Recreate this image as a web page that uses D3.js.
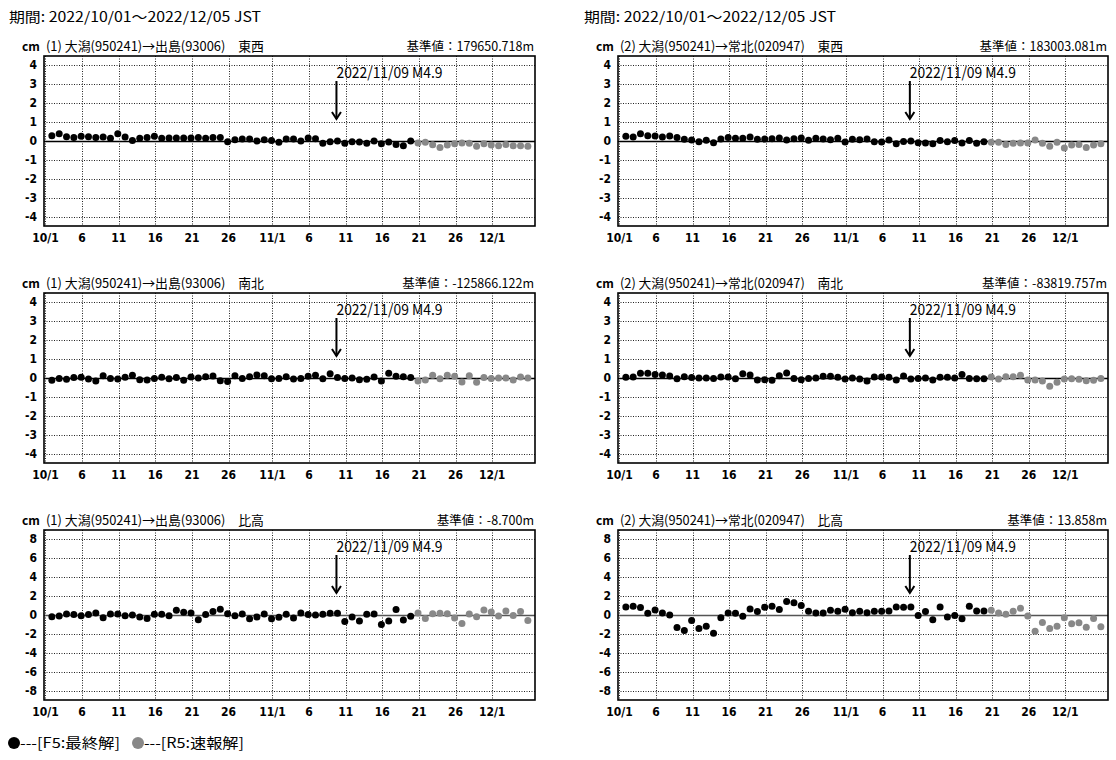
<!DOCTYPE html>
<html><head><meta charset="utf-8">
<script src="https://cdn.jsdelivr.net/npm/d3@7"></script>
<style>
html,body{margin:0;padding:0;background:#fff;}
svg{display:block;}
text{font-family:"Noto Sans CJK JP",sans-serif;fill:#000;}
.tick{font-family:"Liberation Sans Narrow","DejaVu Sans Condensed",sans-serif;font-weight:bold;font-size:12px;}
</style></head>
<body>
<script>
// ---------------- data ----------------
const periodText = "期間: 2022/10/01～2022/12/05 JST";
const eventLabel = "2022/11/09 M4.9";
const eventTime = "2022-11-09T17:40:00Z"; // JST treated as UTC clock
const startDate = "2022-10-01", endDate = "2022-12-06";
const finalCount = 50; // 10/1..11/19 final (F5), then rapid (R5)

const xTickDates = ["2022-10-01","2022-10-06","2022-10-11","2022-10-16","2022-10-21","2022-10-26",
  "2022-11-01","2022-11-06","2022-11-11","2022-11-16","2022-11-21","2022-11-26","2022-12-01"];
const xTickLabels = ["10/1","6","11","16","21","26","11/1","6","11","16","21","26","12/1"];
const yTicksSmall = [4,3,2,1,0,-1,-2,-3,-4];
const yTicksLarge = [8,6,4,2,0,-2,-4,-6,-8];

const panelTitles = [
  "(1) 大潟(950241)→出島(93006)　東西", "(2) 大潟(950241)→常北(020947)　東西",
  "(1) 大潟(950241)→出島(93006)　南北", "(2) 大潟(950241)→常北(020947)　南北",
  "(1) 大潟(950241)→出島(93006)　比高", "(2) 大潟(950241)→常北(020947)　比高"];
const baseValues = ["基準値：179650.718m","基準値：183003.081m","基準値：-125866.122m",
  "基準値：-83819.757m","基準値：-8.700m","基準値：13.858m"];

const ew1 = [0.28,0.39,0.23,0.19,0.25,0.23,0.19,0.21,0.14,0.39,0.21,0.02,0.14,0.18,0.25,0.14,0.16,0.16,0.16,0.16,
  0.18,0.14,0.18,0.19,-0.04,0.07,0.1,0.1,0,0.07,0.02,-0.07,0.1,0.1,0,0.16,0.12,-0.12,-0.04,0,
  -0.12,-0.04,-0.05,-0.12,0,-0.14,-0.05,-0.18,-0.25,0,
  -0.1,-0.07,-0.2,-0.34,-0.21,-0.14,-0.1,-0.12,-0.28,-0.14,-0.21,-0.25,-0.18,-0.25,-0.25,-0.28];
const ew2 = [0.25,0.21,0.39,0.28,0.27,0.21,0.27,0.18,0.09,0.05,-0.04,0.04,-0.09,0.1,0.19,0.14,0.14,0.21,0.09,0.1,
  0.12,0.16,0.05,0.12,0.16,0.04,0.14,0.1,0.07,0.14,-0.05,0.09,0.07,0.1,-0.04,-0.05,0.05,-0.14,-0.02,0,
  -0.09,-0.1,-0.14,0.02,-0.04,0.02,-0.1,0.02,-0.12,-0.04,
  -0.07,-0.07,-0.18,-0.12,-0.1,-0.1,0.05,-0.12,-0.28,-0.07,-0.37,-0.21,-0.18,-0.34,-0.21,-0.14];
const ns1 = [-0.12,-0.02,-0.07,0.02,0.04,-0.05,-0.16,0.12,-0.02,-0.05,0.04,0.14,-0.09,-0.1,-0.02,0.04,-0.04,0.02,-0.12,0.05,
  0,0.07,0.1,-0.14,-0.19,0.12,-0.02,0.07,0.16,0.12,-0.04,-0.02,0.07,-0.05,-0.02,0.09,0.14,-0.04,0.23,0.02,
  -0.02,0,-0.09,-0.07,0.05,-0.16,0.25,0.09,0.07,0.02,
  -0.16,-0.1,0.14,-0.04,0.14,0.09,-0.21,0.12,-0.23,0.02,-0.02,0,0,-0.1,0.05,0];
const ns2 = [0.04,0.05,0.25,0.25,0.19,0.16,0.1,-0.04,0.07,0.02,0,0,-0.02,0.05,0.05,-0.04,0.23,0.16,-0.1,-0.09,
  -0.12,0.12,0.27,-0.02,-0.09,-0.02,0,0.09,0.09,0.04,-0.05,0,-0.05,-0.16,0.05,0.05,0.04,-0.1,0.1,-0.05,
  -0.02,0,-0.1,0.04,0.04,0,0.19,-0.02,-0.04,-0.04,
  0.05,-0.05,0.07,0.07,0.14,-0.1,-0.1,-0.16,-0.44,-0.23,-0.05,-0.04,-0.07,-0.14,-0.12,-0.02];
const ud1 = [-0.18,-0.1,0.1,0.04,-0.07,0.04,0.2,-0.28,0.1,0.1,-0.07,0,-0.2,-0.36,0.07,0.07,-0.07,0.5,0.28,0.2,
  -0.5,0.04,0.36,0.6,0.14,-0.07,0.1,-0.4,-0.2,0.1,-0.4,-0.25,0.07,-0.32,0.2,0.04,0,0.07,0.18,0.18,
  -0.7,-0.2,-0.64,0.07,0.1,-1.0,-0.64,0.57,-0.53,-0.14,
  0.2,-0.36,0.14,0.18,0.14,-0.32,-0.9,0.1,-0.18,0.53,0.32,-0.1,0.43,-0.04,0.36,-0.57];
const ud2 = [0.86,0.93,0.79,0.18,0.54,0.21,0,-1.32,-1.64,-0.57,-1.43,-1.18,-1.93,-0.29,0.21,0.18,-0.14,0.64,0.36,0.82,
  0.93,0.57,1.43,1.29,1.0,0.39,0.21,0.21,0.5,0.39,0.61,0.25,0.39,0.25,0.39,0.39,0.43,0.86,0.82,0.86,
  -0.04,0.36,-0.5,0.86,-0.21,-0.04,-0.39,0.93,0.43,0.43,
  0.5,0.21,0.07,0.39,0.71,-0.11,-1.71,-0.79,-1.43,-1.18,-0.29,-0.93,-0.82,-1.29,-0.36,-1.25];
const seriesList = [ew1, ew2, ns1, ns2, ud1, ud2];

const legendItems = [{label:"---[F5:最終解]", color:"#000"}, {label:"---[R5:速報解]", color:"#888"}];

// ---------------- layout ----------------
const W = 1116, H = 760;
const cols = [{x0:44, x1:535, off:0}, {x0:618, x1:1108, off:575}];
const rows = [{top:56, bottom:226, ymax:4.5, ticks:yTicksSmall, zeroColor:"#000"},
              {top:293, bottom:463, ymax:4.5, ticks:yTicksSmall, zeroColor:"#000"},
              {top:530, bottom:700, ymax:9, ticks:yTicksLarge, zeroColor:"#555"}];
const DAY = 86400000;
const parse = s => new Date(s + (s.length === 10 ? "T00:00:00Z" : ""));
const days = d3.utcDay.range(parse(startDate), parse(endDate));
const pointOffset = 0.875; // daily solution plotted at 21:00 JST

const svg = d3.select("body").append("svg").attr("width", W).attr("height", H);

// period headers
cols.forEach(c => {
  svg.append("text").attr("x", 9 + c.off).attr("y", 22).attr("font-size", 14)
    .attr("textLength", 252).attr("lengthAdjust", "spacingAndGlyphs").text(periodText);
});

rows.forEach((r, ri) => {
  cols.forEach((c, ci) => {
    const pi = ri * 2 + ci;
    const vals = seriesList[pi];
    const x = d3.scaleUtc()
      .domain([new Date(+parse(startDate) - 0.2 * DAY), new Date(+parse(endDate) + 0.85 * DAY)])
      .range([c.x0, c.x1]);
    const y = d3.scaleLinear().domain([-r.ymax, r.ymax]).range([r.bottom, r.top]);
    const g = svg.append("g");

    // titles
    g.append("text").attr("x", c.x0 - 22).attr("y", r.top - 5).attr("font-size", 12)
      .attr("font-weight", "bold").text("cm");
    g.append("text").attr("x", c.x0 + 2).attr("y", r.top - 5).attr("font-size", 13)
      .attr("textLength", ci === 0 ? 218 : 223).attr("lengthAdjust", "spacingAndGlyphs").text(panelTitles[pi]);
    g.append("text").attr("x", c.x1 - 1).attr("y", r.top - 5).attr("font-size", 12.5)
      .attr("text-anchor", "end").text(baseValues[pi]);

    // horizontal gridlines
    g.append("g").selectAll("line").data(r.ticks.filter(t => t !== 0)).join("line")
      .attr("x1", c.x0).attr("x2", c.x1)
      .attr("y1", d => Math.round(y(d)) + 0.5).attr("y2", d => Math.round(y(d)) + 0.5)
      .attr("stroke", "#222").attr("stroke-dasharray", "1,1.5").attr("stroke-width", 1);
    // vertical gridlines
    g.append("g").selectAll("line").data(xTickDates).join("line")
      .attr("x1", d => Math.round(x(parse(d))) + 0.5).attr("x2", d => Math.round(x(parse(d))) + 0.5)
      .attr("y1", r.top).attr("y2", r.bottom)
      .attr("stroke", "#222").attr("stroke-dasharray", "1,1.5").attr("stroke-width", 1);
    // zero line
    g.append("line").attr("x1", c.x0).attr("x2", c.x1)
      .attr("y1", Math.round(y(0)) + 0.5).attr("y2", Math.round(y(0)) + 0.5)
      .attr("stroke", r.zeroColor).attr("stroke-width", 1.4);

    // y tick labels
    g.append("g").selectAll("text").data(r.ticks).join("text").attr("class", "tick")
      .attr("x", c.x0 - 7).attr("y", d => y(d) + 4).attr("text-anchor", "end").text(d => d);
    // x tick labels
    g.append("g").selectAll("text").data(xTickDates).join("text").attr("class", "tick")
      .attr("x", d => x(parse(d))).attr("y", r.bottom + 16).attr("text-anchor", "middle")
      .text((d, i) => xTickLabels[i]);

    // points
    g.append("g").selectAll("circle").data(vals).join("circle")
      .attr("cx", (d, i) => x(new Date(+days[i] + pointOffset * DAY)))
      .attr("cy", d => y(d)).attr("r", 3.5)
      .attr("fill", (d, i) => i < finalCount ? "#000" : "#888");

    // event annotation
    const ex = x(parse(eventTime));
    g.append("text").attr("x", ex).attr("y", r.top + 22).attr("font-size", 15)
      .attr("textLength", 106).attr("lengthAdjust", "spacingAndGlyphs").text(eventLabel);
    const tipY = r.top + 63;
    g.append("line").attr("x1", ex).attr("x2", ex).attr("y1", r.top + 25).attr("y2", tipY)
      .attr("stroke", "#000").attr("stroke-width", 2);
    g.append("path").attr("d", `M${ex - 4.5},${tipY - 7}L${ex},${tipY}L${ex + 4.5},${tipY - 7}`)
      .attr("fill", "none").attr("stroke", "#000").attr("stroke-width", 2);

    // frame
    g.append("rect").attr("x", c.x0).attr("y", r.top).attr("width", c.x1 - c.x0).attr("height", r.bottom - r.top)
      .attr("fill", "none").attr("stroke", "#000").attr("stroke-width", 1.6);
  });
});

// legend
const lg = svg.append("g").attr("transform", "translate(8,748)");
let lx = 0;
legendItems.forEach(it => {
  lg.append("circle").attr("cx", lx + 6).attr("cy", -5).attr("r", 6).attr("fill", it.color);
  lg.append("text").attr("x", lx + 12).attr("y", 0).attr("font-size", 14)
    .attr("textLength", 100).attr("lengthAdjust", "spacingAndGlyphs").text(it.label);
  lx += 124;
});
</script>
</body></html>
